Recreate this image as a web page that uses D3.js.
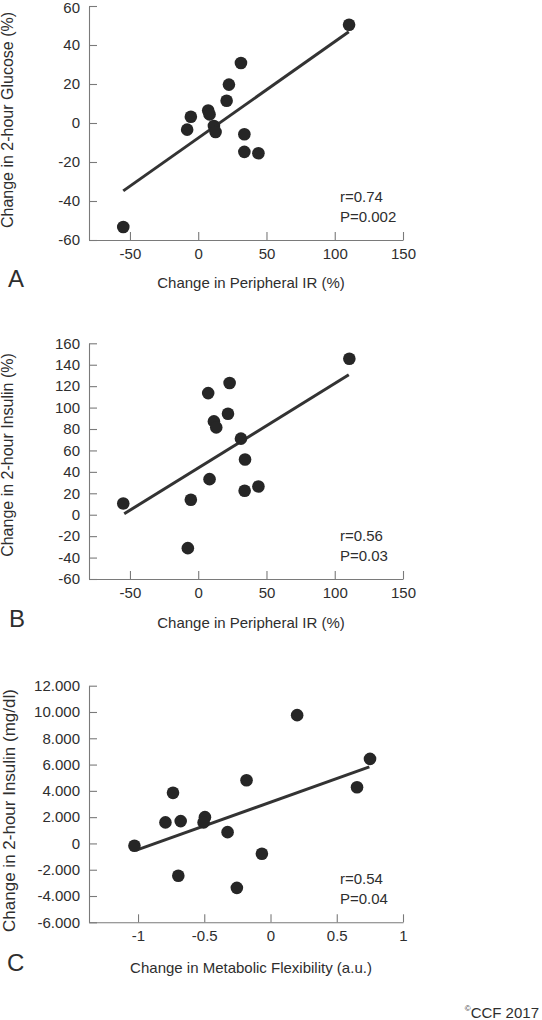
<!DOCTYPE html>
<html>
<head>
<meta charset="utf-8">
<script src="https://cdn.jsdelivr.net/npm/d3@7/dist/d3.min.js"></script>
<style>
  html, body { margin: 0; padding: 0; background: #fff; }
  svg { display: block; font-family: "Liberation Sans", Arial, sans-serif; }
</style>
</head>
<body>
<svg id="chart" width="542" height="1020"></svg>
<script>
// ---------- DATA ----------
// Panel A
const peripheralIR_A = [110.5, 31.3, 22.5, 20.8, 7.3, 8.3, -5.4, -8.1, 11.5, 12.7, 33.8, 33.8, 44.1, -54.9];
const glucose2h_A    = [50.4, 30.8, 19.7, 11.4, 6.4, 4.4, 3.2, -3.4, -1.5, -4.6, -5.8, -14.8, -15.5, -53.3];
const fitX_A = [-54.9, 110.3];
const fitY_A = [-34.8, 46.8];
const stats_A = ["r=0.74", "P=0.002"];

// Panel B
const peripheralIR_B = [110.7, 23, 7.3, 21.8, 11.5, 13.2, 31.3, 34.3, 8.3, 44.1, 34, -5.4, -54.9, -7.6];
const insulin2h_B    = [145.6, 122.9, 113.5, 94.3, 87.1, 81.5, 71, 51.6, 33.2, 26.4, 22.4, 14, 10.5, -31.2];
const fitX_B = [-54.2, 110.3];
const fitY_B = [0.9, 130.7];
const stats_B = ["r=0.56", "P=0.03"];

// Panel C
const metabolicFlex_C = [0.201, 0.751, 0.653, -0.181, -0.736, -0.793, -0.678, -0.495, -0.505, -0.324, -1.027, -0.065, -0.696, -0.254];
const insulin2h_C     = [9760, 6430, 4280, 4810, 3850, 1600, 1700, 2000, 1600, 860, -180, -790, -2460, -3380];
const fitX_C = [-1.012, 0.746];
const fitY_C = [-510, 5830];
const stats_C = ["r=0.54", "P=0.04"];

// Ticks
const xTicksIR = [-50, 0, 50, 100, 150];
const xTickLabelsIR = ["-50", "0", "50", "100", "150"];
const yTicksA = [-60, -40, -20, 0, 20, 40, 60];
const yTickLabelsA = ["-60", "-40", "-20", "0", "20", "40", "60"];
const yTicksB = [-60, -40, -20, 0, 20, 40, 60, 80, 100, 120, 140, 160];
const yTickLabelsB = ["-60", "-40", "-20", "0", "20", "40", "60", "80", "100", "120", "140", "160"];
const xTicksC = [-1, -0.5, 0, 0.5, 1];
const xTickLabelsC = ["-1", "-0.5", "0", "0.5", "1"];
const yTicksC = [-6000, -4000, -2000, 0, 2000, 4000, 6000, 8000, 10000, 12000];
const yTickLabelsC = ["-6.000", "-4.000", "-2.000", "0", "2.000", "4.000", "6.000", "8.000", "10.000", "12.000"];

// ---------- DRAW ----------
const svg = d3.select("#chart");
const TEXT = "#2e2e2e";
const DOT = "#262626";
const AXIS = "#7a7a7a";

function panel(cfg) {
  const x = d3.scaleLinear().domain(cfg.xDomain).range([89, 403]);
  const y = d3.scaleLinear().domain(cfg.yDomain).range([cfg.bottom, cfg.top]);
  const g = svg.append("g");

  const xAxis = d3.axisBottom(x).tickValues(cfg.xTicks)
    .tickFormat((d, i) => cfg.xLabels[i])
    .tickSizeInner(-8).tickSizeOuter(0).tickPadding(8);
  const yAxis = d3.axisLeft(y).tickValues(cfg.yTicks)
    .tickFormat((d, i) => cfg.yLabels[i])
    .tickSizeInner(-8).tickSizeOuter(0).tickPadding(9);

  const gx = g.append("g").attr("transform", `translate(0,${cfg.bottom})`).call(xAxis);
  const gy = g.append("g").attr("transform", `translate(89,0)`).call(yAxis);
  [gx, gy].forEach(a => {
    a.attr("font-family", null).attr("font-size", null);
    a.select(".domain").attr("stroke", AXIS).attr("stroke-width", 1.1);
    a.selectAll(".tick line").attr("stroke", AXIS).attr("stroke-width", 1.1);
    a.selectAll(".tick text").attr("fill", TEXT).style("font-size", "15px");
  });
  if (cfg.topLabelShift) {
    gy.selectAll(".tick text").filter(d => d === cfg.yTicks[cfg.yTicks.length - 1])
      .attr("y", cfg.topLabelShift);
  }

  // fit line
  g.append("line")
    .attr("x1", x(cfg.fitX[0])).attr("y1", y(cfg.fitY[0]))
    .attr("x2", x(cfg.fitX[1])).attr("y2", y(cfg.fitY[1]))
    .attr("stroke", "#333").attr("stroke-width", 3);

  // dots
  g.selectAll("circle").data(cfg.xs).join("circle")
    .attr("cx", d => x(d))
    .attr("cy", (d, i) => y(cfg.ys[i]))
    .attr("r", 6.3)
    .attr("fill", DOT);

  // stats
  cfg.stats.forEach((s, i) => {
    g.append("text").attr("x", 340).attr("y", cfg.bottom - 38 + i * 20)
      .attr("fill", TEXT).style("font-size", "15px").text(s);
  });

  // x title
  g.append("text").attr("x", 251).attr("y", cfg.xTitleY)
    .attr("text-anchor", "middle").attr("fill", TEXT).style("font-size", "15px")
    .text(cfg.xTitle);

  // y title
  g.append("text")
    .attr("transform", `translate(${cfg.yTitleX},${cfg.yTitleCY}) rotate(-90)`)
    .attr("text-anchor", "middle").attr("fill", TEXT).style("font-size", cfg.yTitleSize + "px")
    .text(cfg.yTitle);

  // panel letter
  g.append("text").attr("x", cfg.letterX).attr("y", cfg.letterY)
    .attr("fill", TEXT).style("font-size", "24px").text(cfg.letter);
}

panel({
  xDomain: [-80, 150], yDomain: [-60, 60], top: 6, bottom: 240, topLabelShift: 1.5,
  xTicks: xTicksIR, xLabels: xTickLabelsIR, yTicks: yTicksA, yLabels: yTickLabelsA,
  xs: peripheralIR_A, ys: glucose2h_A, fitX: fitX_A, fitY: fitY_A, stats: stats_A,
  xTitle: "Change in Peripheral IR (%)", xTitleY: 288,
  yTitle: "Change in 2-hour Glucose (%)", yTitleX: 13, yTitleCY: 120, yTitleSize: 16,
  letter: "A", letterX: 8, letterY: 287
});

panel({
  xDomain: [-80, 150], yDomain: [-60, 160], top: 343.3, bottom: 579,
  xTicks: xTicksIR, xLabels: xTickLabelsIR, yTicks: yTicksB, yLabels: yTickLabelsB,
  xs: peripheralIR_B, ys: insulin2h_B, fitX: fitX_B, fitY: fitY_B, stats: stats_B,
  xTitle: "Change in Peripheral IR (%)", xTitleY: 628,
  yTitle: "Change in 2-hour Insulin (%)", yTitleX: 13, yTitleCY: 455, yTitleSize: 16,
  letter: "B", letterX: 9, letterY: 627
});

panel({
  xDomain: [-1.37, 1], yDomain: [-6000, 12000], top: 685.7, bottom: 922.3,
  xTicks: xTicksC, xLabels: xTickLabelsC, yTicks: yTicksC, yLabels: yTickLabelsC,
  xs: metabolicFlex_C, ys: insulin2h_C, fitX: fitX_C, fitY: fitY_C, stats: stats_C,
  xTitle: "Change in Metabolic Flexibility (a.u.)", xTitleY: 973,
  yTitle: "Change in 2-hour Insulin (mg/dl)", yTitleX: 14.5, yTitleCY: 810.5, yTitleSize: 17,
  letter: "C", letterX: 7, letterY: 971
});

// copyright
const cr = svg.append("text").attr("x", 539).attr("y", 1015)
  .attr("text-anchor", "end").attr("fill", TEXT).style("font-size", "15px");
cr.append("tspan").attr("dy", "-0.45em").style("font-size", "8px").text("©");
cr.append("tspan").attr("dy", "0.45em").text("CCF 2017");
</script>
</body>
</html>
